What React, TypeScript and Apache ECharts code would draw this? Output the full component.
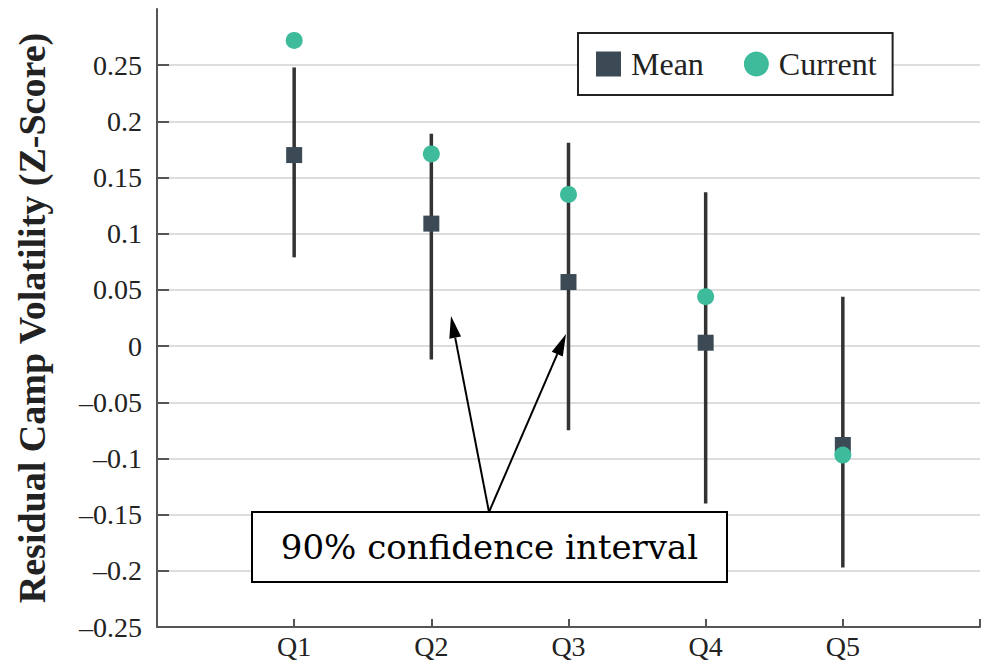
import React, { useEffect, useRef } from "react";
import * as echarts from "echarts";

const categories = ["Q1", "Q2", "Q3", "Q4", "Q5"];
const meanValues = [0.17, 0.109, 0.057, 0.003, -0.088];
const currentValues = [0.272, 0.171, 0.135, 0.044, -0.097];
const ciLow = [0.079, -0.012, -0.075, -0.14, -0.197];
const ciHigh = [0.248, 0.189, 0.181, 0.137, 0.044];
const yTicks = { min: -0.25, max: 0.3, interval: 0.05 };
const annotationText = "90% confidence interval";

const SERIF = "Liberation Serif";

function arrow(tail: number[], tip: number[]) {
  const dx = tip[0] - tail[0];
  const dy = tip[1] - tail[1];
  const len = Math.sqrt(dx * dx + dy * dy);
  const ux = dx / len, uy = dy / len;
  const hl = 22, hw = 6;
  const bx = tip[0] - hl * ux, by = tip[1] - hl * uy;
  const nx = -uy, ny = ux;
  return [
    {
      type: "line",
      shape: { x1: tail[0], y1: tail[1], x2: bx, y2: by },
      style: { stroke: "#000", lineWidth: 2 },
      z: 100,
    },
    {
      type: "polygon",
      shape: {
        points: [
          [tip[0], tip[1]],
          [bx + hw * nx, by + hw * ny],
          [bx - hw * nx, by - hw * ny],
        ],
      },
      style: { fill: "#000" },
      z: 100,
    },
  ];
}

export default function App() {
  const ref = useRef<HTMLDivElement>(null);
  useEffect(() => {
    document.body.style.margin = "0";
    const chart = echarts.init(ref.current!, null, { renderer: "svg" });
    const xData = ["", ...categories, ""];
    const option: any = {
      animation: false,
      backgroundColor: "#fff",
      grid: { left: 157, top: 9, width: 831, bottom: 38, containLabel: false },
      xAxis: {
        type: "category",
        data: xData,
        boundaryGap: false,
        axisLine: { onZero: false, lineStyle: { color: "#555", width: 2 } },
        axisTick: { inside: true, length: 8, lineStyle: { color: "#555", width: 2 } },
        axisLabel: { fontFamily: SERIF, fontSize: 28, color: "#222", margin: 5 },
        splitLine: { show: false },
      },
      yAxis: {
        type: "value",
        min: yTicks.min,
        max: yTicks.max,
        interval: yTicks.interval,
        name: "Residual Camp Volatility (Z-Score)",
        nameLocation: "middle",
        nameGap: 106,
        nameTextStyle: { fontFamily: SERIF, fontSize: 38, fontWeight: "bold", color: "#222" },
        axisLine: { show: true, onZero: false, lineStyle: { color: "#555", width: 2 } },
        axisTick: { show: true, inside: true, length: 12, lineStyle: { color: "#555", width: 2 } },
        axisLabel: {
          fontFamily: SERIF,
          fontSize: 28,
          color: "#222",
          margin: 15,
          showMaxLabel: false,
          formatter: (v: number) => {
            const r = Math.round(v * 100) / 100;
            if (r === 0) return "0";
            const s = String(Math.abs(r));
            return r < 0 ? "\u2013" + s : s;
          },
        },
        splitLine: { show: true, showMaxLine: false, lineStyle: { color: "#ddd", width: 2 } },
      },
      legend: {
        left: 578,
        top: 33,
        orient: "horizontal",
        padding: [15, 16, 15, 18],
        borderColor: "#222",
        borderWidth: 2,
        backgroundColor: "#fff",
        itemWidth: 25,
        itemHeight: 25,
        itemGap: 40,
        textStyle: { fontFamily: SERIF, fontSize: 32, color: "#222", padding: [0, 0, 0, 5] },
        data: [
          { name: "Mean", icon: "rect" },
          { name: "Current", icon: "circle" },
        ],
      },
      series: [
        {
          type: "custom",
          name: "CI",
          data: categories.map((c, i) => [c, ciLow[i], ciHigh[i]]),
          renderItem: (params: any, api: any) => {
            const lo = api.coord([api.value(0), api.value(1)]);
            const hi = api.coord([api.value(0), api.value(2)]);
            return {
              type: "line",
              shape: { x1: lo[0], y1: lo[1], x2: hi[0], y2: hi[1] },
              style: { stroke: "#333", lineWidth: 3.5 },
            };
          },
          encode: { x: 0, y: [1, 2] },
          z: 1,
        },
        {
          type: "scatter",
          name: "Mean",
          symbol: "rect",
          symbolSize: 16,
          itemStyle: { color: "#3b4a54", opacity: 1 },
          data: categories.map((c, i) => [c, meanValues[i]]),
          z: 2,
        },
        {
          type: "scatter",
          name: "Current",
          symbol: "circle",
          symbolSize: 17,
          itemStyle: { color: "#3dbb9b", opacity: 1 },
          data: categories.map((c, i) => [c, currentValues[i]]),
          z: 3,
        },
      ],
      graphic: [
        ...arrow([489, 512], [451, 316]),
        ...arrow([489, 512], [566, 334]),
        {
          type: "rect",
          shape: { x: 252, y: 512, width: 475, height: 70 },
          style: { fill: "#fff", stroke: "#000", lineWidth: 2 },
          z: 100,
        },
        {
          type: "text",
          x: 489.5,
          y: 547,
          style: {
            text: annotationText,
            fontFamily: "DejaVu Serif",
            fontSize: 34,
            fill: "#000",
            align: "center",
            verticalAlign: "middle",
          },
          z: 101,
        },
      ],
    };
    chart.setOption(option);
    return () => chart.dispose();
  }, []);
  return <div ref={ref} style={{ width: 983, height: 665 }} />;
}
